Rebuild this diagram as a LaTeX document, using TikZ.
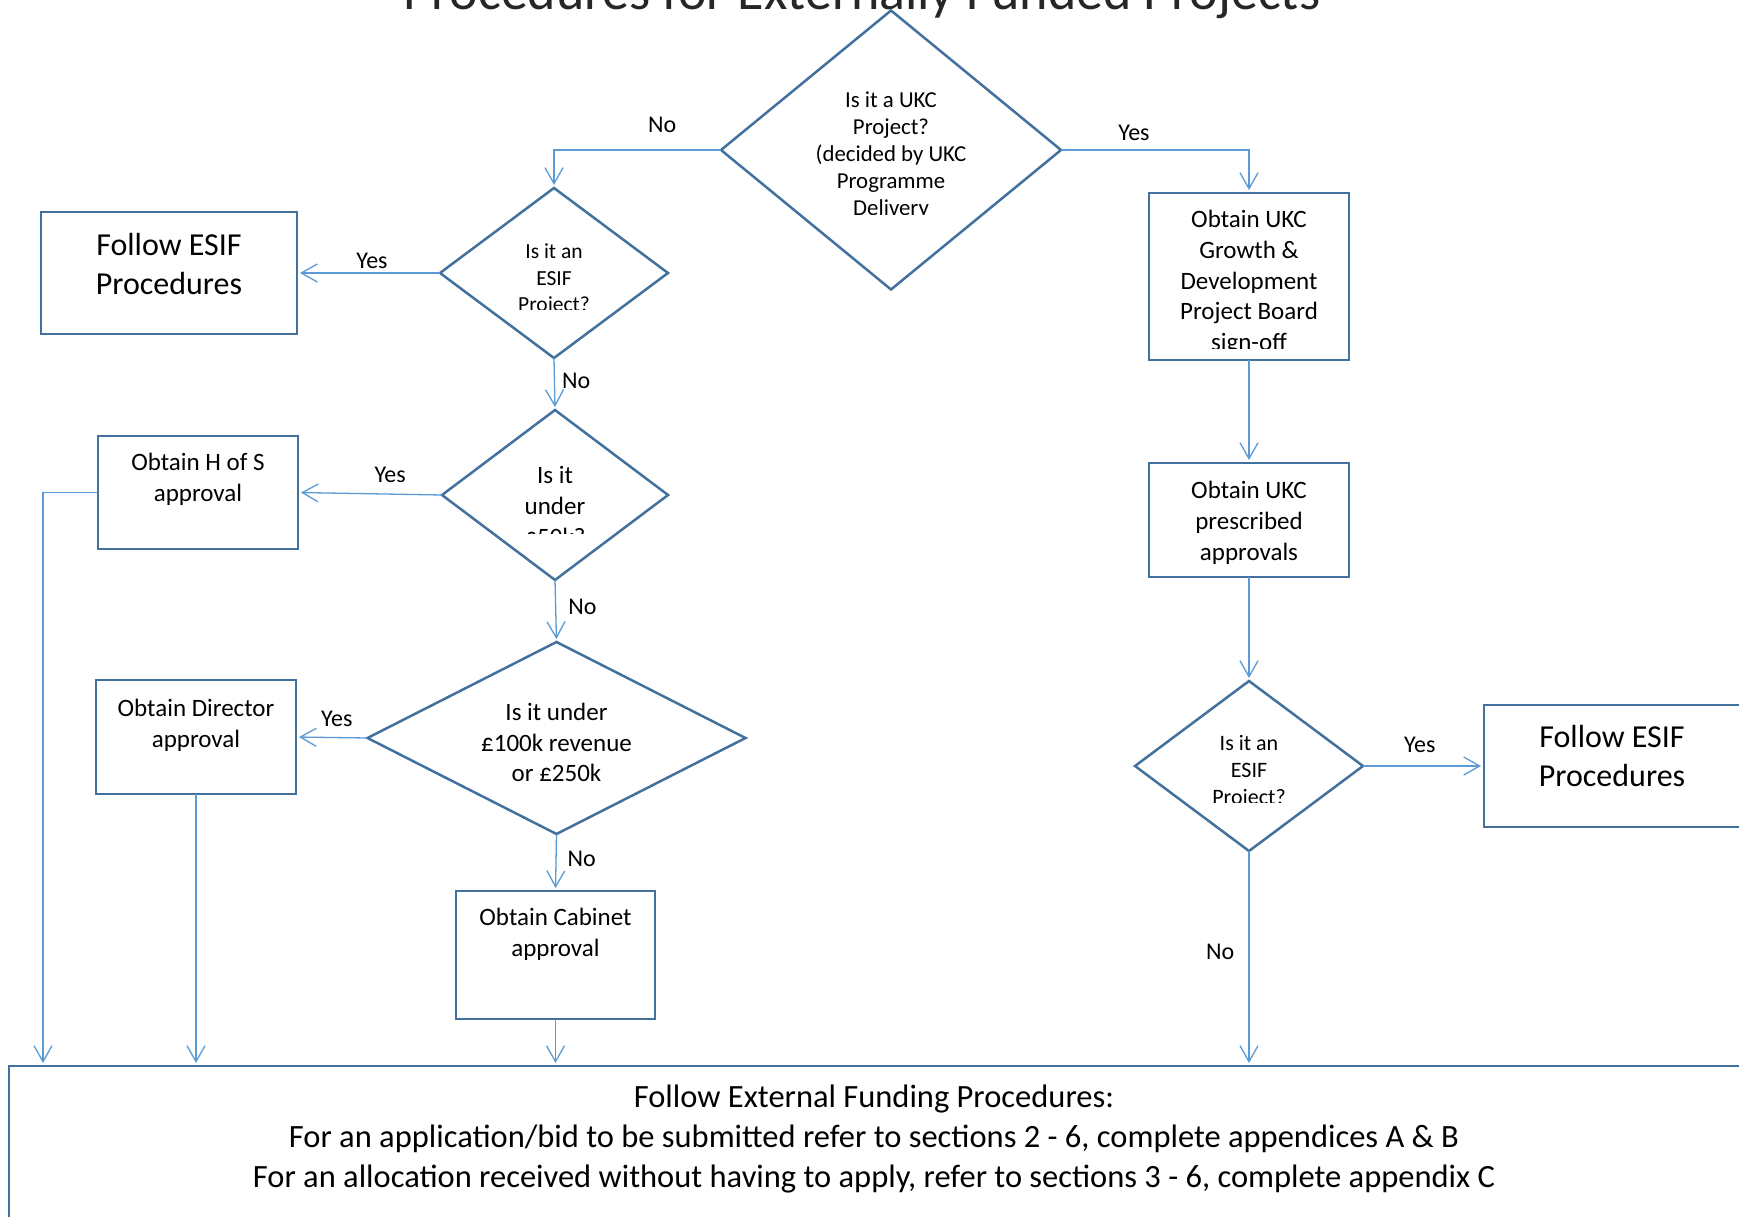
\documentclass[tikz,border=0pt]{standalone}
\usepackage{fontspec}
\setmainfont{Carlito}
\usepackage{tikz}
\usetikzlibrary{positioning, arrows.meta, calc, shapes.geometric}
\definecolor{shape_blue}{HTML}{41719C}
\definecolor{line_blue}{HTML}{5B9BD5}
\tikzstyle{conn} = [line_blue, line width=1.3pt, -{Straight Barb[length=16pt, width=18pt]}, shorten >=3pt]
\tikzstyle{dec} = [diamond, draw=shape_blue, line width=2.5pt, inner sep=0pt, outer sep=0pt, fill=white]
\tikzstyle{stepbox} = [rectangle, draw=shape_blue, line width=2.5pt, inner sep=0pt, outer sep=0pt, fill=white]
\tikzstyle{txt} = [align=center, inner sep=0pt, font=\fontsize{25}{30.75}\selectfont]
\tikzstyle{smalltxt} = [txt, font=\fontsize{22.8}{27}\selectfont]
\tikzstyle{bigtxt} = [txt, font=\fontsize{32}{39}\selectfont]
\tikzstyle{lbl} = [inner sep=0pt, text=black, font=\fontsize{24}{29}\selectfont]

\begin{document}
\begin{tikzpicture}[x=1pt, y=-1pt]
        \useasboundingbox (0,0) rectangle (1739,1217);
        \fill[white] (0,0) rectangle (1739,1217);
        \clip (0,0) rectangle (1739,1217);
        \node (title) [anchor=base, inner sep=0pt, text=black!85, font=\fontsize{54}{64}\selectfont] at (862,10) {Procedures for Externally Funded Projects};
        % decisions
        \node (ukc) [dec, minimum width=340, minimum height=279] at (891,150) {};
        \node (esif1) [dec, minimum width=228, minimum height=170] at (554,273) {};
        \node (fifty) [dec, minimum width=226, minimum height=170] at (555,495) {};
        \node (hundred) [dec, minimum width=378, minimum height=192] at (556.5,738) {};
        \node (esif2) [dec, minimum width=228, minimum height=170] at (1249,766) {};
        % boxes
        \node (esifL) [stepbox, minimum width=256, minimum height=122] at (169,273) {};
        \node (hos) [stepbox, minimum width=200, minimum height=113] at (198,492.5) {};
        \node (director) [stepbox, minimum width=200, minimum height=114] at (196,737) {};
        \node (cabinet) [stepbox, minimum width=199, minimum height=128] at (555.5,955) {};
        \node (gnd) [stepbox, minimum width=200, minimum height=167] at (1249,276.5) {};
        \node (prescribed) [stepbox, minimum width=200, minimum height=114] at (1249,520) {};
        \node (esifR) [stepbox, minimum width=260, minimum height=122] at (1614,766) {};
        \node (fund) [stepbox, minimum width=1751, minimum height=200] at (884.5,1166) {};
        % texts
        \begin{scope}
            \clip (700,60) rectangle (1080,214);
            \node (ukc_text) [smalltxt, below=81.5pt of ukc.north] {Is it a UKC\\Project?\\(decided by UKC\\Programme\\Delivery};
        \end{scope}
        \begin{scope}
            \clip (440,200) rectangle (668,309);
            \node (esif1_text) [smalltxt, font=\fontsize{21.5}{26.5}\selectfont, below=56pt of esif1.north] {Is it an\\ESIF\\Project?};
        \end{scope}
        \begin{scope}
            \clip (440,420) rectangle (668,533);
            \node (fifty_text) [txt, font=\fontsize{25}{31}\selectfont, below=56pt of fifty.north] {Is it\\under\\£50k?};
        \end{scope}
        \node (hundred_text) [txt, font=\fontsize{25}{30.5}\selectfont, below=61pt of hundred.north] {Is it under\\£100k revenue\\or £250k};
        \begin{scope}
            \clip (1135,690) rectangle (1363,802);
            \node (esif2_text) [smalltxt, font=\fontsize{22}{27}\selectfont, below=54pt of esif2.north] {Is it an\\ESIF\\Project?};
        \end{scope}
        \node (esifL_text) [bigtxt, below=21pt of esifL.north] {Follow ESIF\\Procedures};
        \node (hos_text) [txt, below=17pt of hos.north] {Obtain H of S\\approval};
        \node (director_text) [txt, below=19pt of director.north] {Obtain Director\\approval};
        \node (cabinet_text) [txt, below=17pt of cabinet.north] {Obtain Cabinet\\approval};
        \begin{scope}
            \clip (1150,195) rectangle (1348,348);
            \node (gnd_text) [txt, below=17pt of gnd.north] {Obtain UKC\\Growth \&\\Development\\Project Board\\sign-off};
        \end{scope}
        \node (prescribed_text) [txt, below=18pt of prescribed.north] {Obtain UKC\\prescribed\\approvals};
        \node (esifR_text) [bigtxt, below=20pt of esifR.north, xshift=-2pt] {Follow ESIF\\Procedures};
        \node (fund_text) [txt, font=\fontsize{32.5}{40}\selectfont, below=19pt of fund.north, xshift=-10.5pt] {Follow External Funding Procedures:\\For an application/bid to be submitted refer to sections 2 - 6, complete appendices A \& B\\For an allocation received without having to apply, refer to sections 3 - 6, complete appendix C};
        % connectors
        \draw [conn] (ukc.west) -| node[lbl, pos=0.176, above=17pt] (no_ukc) {No} (esif1.north);
        \draw [conn] (ukc.east) -| node[lbl, pos=0.194, above=9pt] (yes_ukc) {Yes} (gnd.north);
        \draw [conn] (esif1.west) -- node[lbl, pos=0.476, above=4pt] (yes_esif1) {Yes} (esifL.east);
        \draw [conn] (esif1.south) -- node[lbl, pos=0.44, right=7pt] (no_esif1) {No} (fifty.north);
        \draw [conn] (fifty.west) -- node[lbl, pos=0.36, above=11pt] (yes_fifty) {Yes} (hos.east);
        \draw [conn] (fifty.south) -- node[lbl, pos=0.44, right=12pt] (no_fifty) {No} (hundred.north);
        \draw [conn] (hundred.west) -- node[lbl, pos=0.43, above=10pt] (yes_hundred) {Yes} (director.east);
        \draw [conn] (hundred.south) -- node[lbl, pos=0.44, right=11pt] (no_hundred) {No} (cabinet.north);
        \draw [conn] (hos.west) -| ([xshift=34pt]fund.north west);
        \draw [conn] (director.south) -- (director.south |- fund.north);
        \draw [conn] (cabinet.south) -- (cabinet.south |- fund.north);
        \draw [conn] (gnd.south) -- (prescribed.north);
        \draw [conn] (prescribed.south) -- (esif2.north);
        \draw [conn] (esif2.east) -- node[lbl, pos=0.47, above=13pt] (yes_esif2) {Yes} (esifR.west);
        \draw [conn] (esif2.south) -- node[lbl, pos=0.47, left=14pt] (no_esif2) {No} (esif2.south |- fund.north);
    \end{tikzpicture}
\end{document}
